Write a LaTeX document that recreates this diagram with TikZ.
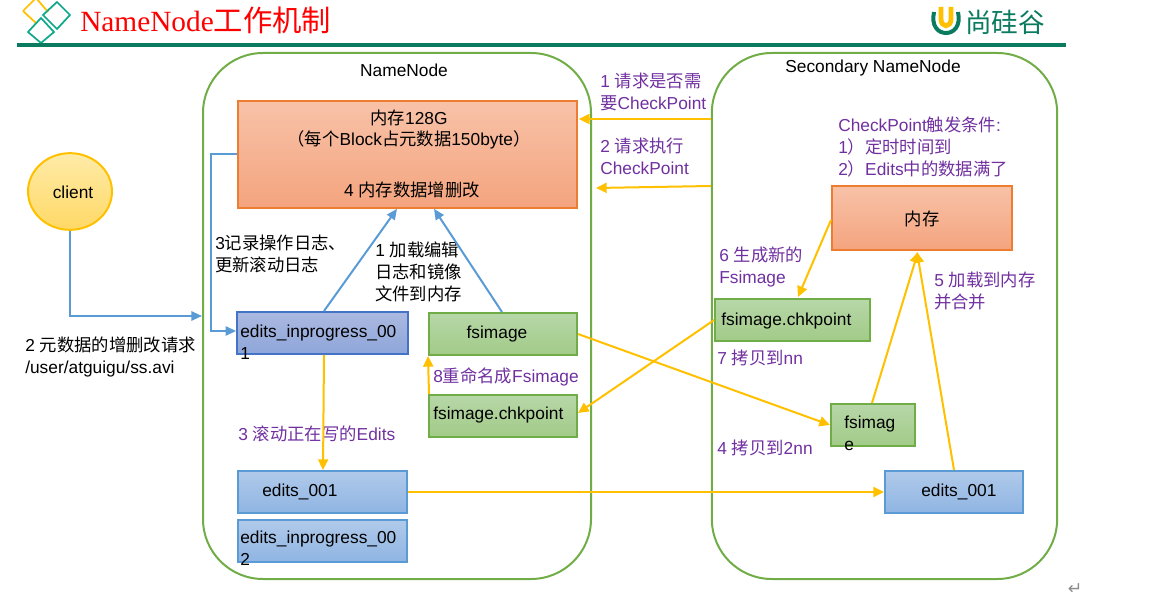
\documentclass[tikz,border=0pt]{standalone}
\usepackage{fontspec}
\setmainfont{Liberation Sans}
\newfontfamily\cjk{Noto Sans CJK SC}
\newfontfamily\titlefont{Liberation Serif}
\newfontfamily\symfont{DejaVu Sans}
\newcommand\zh[1]{{\cjk #1}}
\usetikzlibrary{arrows.meta,calc,shapes.geometric}
\definecolor{gold}{HTML}{FFC000}
\definecolor{azure}{HTML}{5B9BD5}
\definecolor{leaf}{HTML}{70AD47}
\definecolor{indigo}{HTML}{4472C4}
\definecolor{plum}{HTML}{7030A0}
\definecolor{pine}{HTML}{0B7B60}
\definecolor{jade}{HTML}{10A88C}
\definecolor{peach}{HTML}{ED7D31}
\definecolor{F8C2A8}{HTML}{F8C2A8}
\definecolor{F4A47E}{HTML}{F4A47E}
\definecolor{B0CAEA}{HTML}{B0CAEA}
\definecolor{8FB5E3}{HTML}{8FB5E3}
\definecolor{ABB9E0}{HTML}{ABB9E0}
\definecolor{8EA6DA}{HTML}{8EA6DA}
\definecolor{B7D7A8}{HTML}{B7D7A8}
\definecolor{A2CB88}{HTML}{A2CB88}
\definecolor{FFEBA8}{HTML}{FFEBA8}
\definecolor{FFD966}{HTML}{FFD966}
\tikzset{
  x=0.75pt,y=-0.75pt,
  base/.style={font=\fontsize{13}{16.5}\selectfont,yshift=-0.75pt},
  container/.style={draw=leaf,line width=1.5pt,rounded corners=45pt,minimum width=#1,inner sep=0},
  boxa/.style={rectangle,draw,line width=1.5pt,inner sep=0},
  redbox/.style={boxa,draw=peach,top color=F8C2A8,bottom color=F4A47E},
  bluebox/.style={boxa,draw=azure,top color=B0CAEA,bottom color=8FB5E3},
  darkbox/.style={boxa,draw=indigo,top color=ABB9E0,bottom color=8EA6DA},
  greenbox/.style={boxa,draw=leaf,top color=B7D7A8,bottom color=A2CB88},
  lbl/.style={base,inner sep=0,anchor=west,align=left},
  plabel/.style={lbl,text=plum},
  goldline/.style={draw=gold,line width=1.5pt,-{Triangle[length=8pt,width=7.5pt]}},
  blueline/.style={draw=azure,line width=1.5pt,-{Triangle[length=8pt,width=7pt]}},
}
\begin{document}
\begin{tikzpicture}
\useasboundingbox (0,0) rectangle (1160,602);
% header
\begin{scope}
\clip (0,0) rectangle (1160,602);
\draw[gold,line width=1.3pt] (23,11)--(36,-2)--(48,12);
\draw[gold,line width=1.3pt] (23,11)--(36,23);
\end{scope}
\draw[jade,line width=1.3pt] (43,15)--(57,2)--(70,15)--(57,29)--cycle;
\draw[jade,line width=1.3pt] (28,32)--(41,18)--(54,32)--(41,43)--cycle;
\node[inner sep=0,anchor=west,text=red,font=\fontsize{22}{24}\selectfont] (title) at (80,20) {\titlefont NameNode\zh{工作机制}};
\draw[pine,line width=2.8pt] (17,45)--(1066,45);
\draw[pine,line width=3pt] (934,12) .. controls (931,26) and (938,33) .. (946,33) .. controls (954,33) and (961,26) .. (958,12);
\draw[gold,line width=3.6pt] (941,7)--(941,19) .. controls (941,28) and (951,28) .. (951,19)--(951,7);
\node[inner sep=0,anchor=west,text=pine,font=\fontsize{20}{22}\selectfont] (brand) at (965,22) {\zh{尚硅谷}};
% containers
\node[container=291,minimum height=394.5] (nn) at (397,316) {};
\node[container=259,minimum height=394.5] (snn) at (884.5,316) {};
\node[base,inner sep=0] (nnt) at (404,69.5) {NameNode};
\node[base,inner sep=0] (snnt) at (873,67.5) {Secondary NameNode};
% client
\node[ellipse,draw=gold,line width=1.5pt,top color=FFEBA8,bottom color=FFD966,minimum width=63,minimum height=57.5,inner sep=0] (client) at (70,191.5) {};
\node[base,inner sep=0] (clientt) at (73,191.5) {client};
% boxes
\node[redbox,minimum width=254,minimum height=80] (mem) at (407.5,154.5) {};
\node[darkbox,minimum width=128,minimum height=31.5] (ein1) at (322.5,333) {};
\node[greenbox,minimum width=111,minimum height=31.5] (fs1) at (503,334) {};
\node[greenbox,minimum width=111,minimum height=31.5] (chk1) at (503,416) {};
\node[bluebox,minimum width=127,minimum height=31.5] (e1) at (322.5,492) {};
\node[bluebox,minimum width=127,minimum height=31.5] (ein2) at (322.5,541) {};
\node[redbox,minimum width=135,minimum height=48] (mem2) at (922,218) {};
\node[greenbox,minimum width=116,minimum height=31.5] (chk2) at (792.5,320) {};
\node[greenbox,minimum width=63,minimum height=31.5] (fs2) at (873,425) {};
\node[bluebox,minimum width=103.5,minimum height=31.5] (e3) at (954,492) {};
% box text
\node[base,inner sep=0] (m1) at (409,117) {\zh{内存}128G};
\node[base,inner sep=0] (m2) at (409,139) {\zh{（每个}Block\zh{占元数据}150byte\zh{）}};
\node[base,inner sep=0] (m3) at (412,189) {4 \zh{内存数据增删改}};
\node[lbl] (t1) at (240,341) {edits\_inprogress\_00\\1};
\node[base,inner sep=0] (t2) at (497,333) {fsimage};
\node[lbl] (t3) at (433,414) {fsimage.chkpoint};
\node[lbl] (t4) at (262,491) {edits\_001};
\node[lbl] (t5) at (240,547) {edits\_inprogress\_00\\2};
\node[base,inner sep=0] (t6) at (922,218) {\zh{内存}};
\node[lbl] (t7) at (721,320) {fsimage.chkpoint};
\node[lbl] (t8) at (844,432) {fsimag\\e};
\node[lbl] (t9) at (921,491) {edits\_001};
% labels
\node[plabel] (a1) at (600,90.5) {1 \zh{请求是否需}\\\zh{要}CheckPoint};
\node[plabel] (a2) at (600,155) {2 \zh{请求执行}\\CheckPoint};
\node[plabel] (a3) at (838,146) {CheckPoint\zh{触发条件}:\\1\zh{）定时时间到}\\2\zh{）}Edits\zh{中的数据满了}};
\node[lbl] (a4) at (215,253) {3\zh{记录操作日志、}\\\zh{更新滚动日志}};
\node[lbl] (a5) at (375,271) {1 \zh{加载编辑}\\\zh{日志和镜像}\\\zh{文件到内存}};
\node[plabel] (a6) at (719,266) {6 \zh{生成新的}\\Fsimage};
\node[plabel] (a7) at (717,357) {7 \zh{拷贝到}nn};
\node[plabel] (a8) at (433,376) {8\zh{重命名成}Fsimage};
\node[plabel] (a9) at (238,433) {3 \zh{滚动正在写的}Edits};
\node[plabel] (a10) at (717,447) {4 \zh{拷贝到}2nn};
\node[plabel] (a11) at (934,290) {5 \zh{加载到内存}\\\zh{并合并}};
\node[lbl] (a12) at (25,355.5) {2 \zh{元数据的增删改请求}\\/user/atguigu/ss.avi};
\node[inner sep=0,text=black!45,font=\fontsize{13}{15}\selectfont] (ret) at (1075,589) {\symfont ↵};
% connectors
\draw[goldline] ($(snn.west)+(0,-197)$) -- ($(mem.east)+(1,-35.5)$);
\draw[goldline] ($(snn.west)+(0,-130)$) -- ($(nn.east)+(4,-128)$);
\draw[blueline] (mem.west|-0,154) -- (211,154) -- (211,331) -- (ein1.west|-0,331);
\draw[blueline] (client.south) -- (70,316) -- (nn.west|-0,316);
\draw[blueline] ($(ein1.north)+(1.5,0)$) -- ($(mem.south)+(-10.5,0)$);
\draw[blueline] ($(fs1.north)+(-1,0)$) -- ($(mem.south)+(26.5,0)$);
\draw[goldline] ($(ein1.south)+(1.5,0)$) -- ($(e1.north)+(0.5,0)$);
\draw[goldline] ($(chk1.north west)+(1,0)$) -- ($(fs1.south west)+(0,0)$);
\draw[goldline] ($(fs1.east)+(0,0)$) -- (fs2.west);
\draw[goldline] (chk2.west) -- ($(chk1.east)+(0,-3)$);
\draw[goldline] (e1.east) -- (e3.west);
\draw[goldline] ($(mem2.west)+(0,2)$) -- ($(chk2.north)+(5.5,-1)$);
\draw[goldline] ($(fs2.north)+(-1,0)$) -- ($(mem2.south)+(-4,1)$);
\draw[goldline] ($(e3.north)+(0,0)$) -- ($(mem2.south)+(-5,1)$);
\end{tikzpicture}
\end{document}
